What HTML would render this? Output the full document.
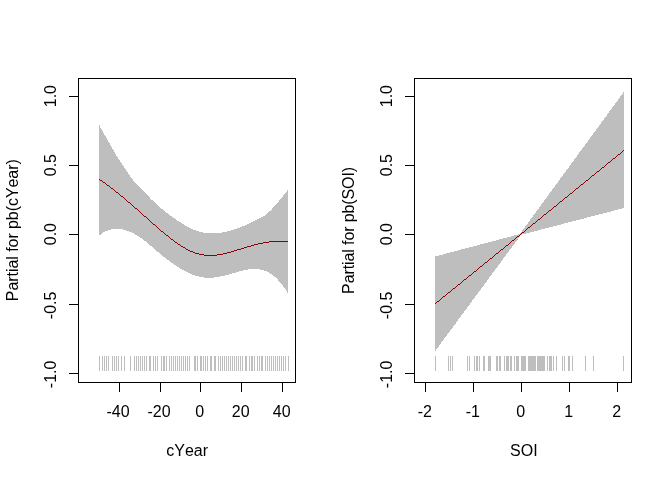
<!DOCTYPE html>
<html><head><meta charset="utf-8"><title>Partial term plots</title>
<style>html,body{margin:0;padding:0;background:#fff;}svg{display:block;}</style></head>
<body><svg width="672" height="480" viewBox="0 0 672 480">
<rect width="672" height="480" fill="#fff"/>
<g shape-rendering="crispEdges">
<polygon fill="#bebebe" points="99.0,124.1 99.5,125.3 100.0,126.4 100.5,127.5 101.0,128.5 101.5,129.5 102.0,130.4 102.5,131.3 103.0,132.2 103.5,133.0 104.0,133.9 104.5,134.7 105.0,135.5 105.5,136.3 106.0,137.2 106.5,138.0 107.0,138.9 107.5,139.7 108.0,140.6 108.5,141.5 109.0,142.4 109.5,143.3 110.0,144.2 110.5,145.1 111.0,146.0 111.5,146.9 112.0,147.8 112.5,148.7 113.0,149.6 113.5,150.4 114.0,151.3 114.5,152.2 115.0,153.0 115.5,153.8 116.0,154.7 116.5,155.5 117.0,156.3 117.5,157.1 118.0,157.8 118.5,158.6 119.0,159.4 119.5,160.1 120.0,160.9 120.5,161.6 121.0,162.4 121.5,163.1 122.0,163.9 122.5,164.6 123.0,165.4 123.5,166.1 124.0,166.9 124.5,167.6 125.0,168.4 125.5,169.2 126.0,169.9 126.5,170.7 127.0,171.5 127.5,172.2 128.0,173.0 128.5,173.7 129.0,174.4 129.5,175.2 130.0,175.9 130.5,176.6 131.0,177.3 131.5,177.9 132.0,178.6 132.5,179.3 133.0,179.9 133.5,180.5 134.0,181.1 134.5,181.7 135.0,182.3 135.5,182.9 136.0,183.4 136.5,184.0 137.0,184.5 137.5,185.1 138.0,185.6 138.5,186.1 139.0,186.7 139.5,187.2 140.0,187.7 140.5,188.2 141.0,188.7 141.5,189.3 142.0,189.8 142.5,190.3 143.0,190.8 143.5,191.3 144.0,191.9 144.5,192.4 145.0,192.9 145.5,193.4 146.0,194.0 146.5,194.5 147.0,195.0 147.5,195.5 148.0,196.0 148.5,196.5 149.0,197.0 149.5,197.5 150.0,198.1 150.5,198.6 151.0,199.1 151.5,199.5 152.0,200.0 152.5,200.5 153.0,201.0 153.5,201.5 154.0,202.0 154.5,202.4 155.0,202.9 155.5,203.3 156.0,203.8 156.5,204.2 157.0,204.7 157.5,205.1 158.0,205.6 158.5,206.0 159.0,206.4 159.5,206.8 160.0,207.3 160.5,207.7 161.0,208.1 161.5,208.5 162.0,208.9 162.5,209.3 163.0,209.7 163.5,210.1 164.0,210.5 164.5,210.9 165.0,211.3 165.5,211.7 166.0,212.1 166.5,212.5 167.0,212.9 167.5,213.2 168.0,213.6 168.5,214.0 169.0,214.4 169.5,214.7 170.0,215.1 170.5,215.5 171.0,215.8 171.5,216.2 172.0,216.6 172.5,216.9 173.0,217.3 173.5,217.7 174.0,218.0 174.5,218.4 175.0,218.7 175.5,219.1 176.0,219.4 176.5,219.8 177.0,220.1 177.5,220.5 178.0,220.8 178.5,221.1 179.0,221.5 179.5,221.8 180.0,222.1 180.5,222.4 181.0,222.8 181.5,223.1 182.0,223.4 182.5,223.7 183.0,224.0 183.5,224.3 184.0,224.6 184.5,224.9 185.0,225.2 185.5,225.5 186.0,225.8 186.5,226.1 187.0,226.4 187.5,226.6 188.0,226.9 188.5,227.2 189.0,227.4 189.5,227.7 190.0,227.9 190.5,228.2 191.0,228.4 191.5,228.6 192.0,228.9 192.5,229.1 193.0,229.3 193.5,229.5 194.0,229.7 194.5,230.0 195.0,230.2 195.5,230.3 196.0,230.5 196.5,230.7 197.0,230.9 197.5,231.1 198.0,231.2 198.5,231.4 199.0,231.5 199.5,231.7 200.0,231.8 200.5,232.0 201.0,232.1 201.5,232.2 202.0,232.3 202.5,232.4 203.0,232.5 203.5,232.6 204.0,232.7 204.5,232.8 205.0,232.9 205.5,233.0 206.0,233.0 206.5,233.1 207.0,233.2 207.5,233.2 208.0,233.3 208.5,233.3 209.0,233.3 209.5,233.4 210.0,233.4 210.5,233.4 211.0,233.4 211.5,233.4 212.0,233.4 212.5,233.4 213.0,233.4 213.5,233.4 214.0,233.4 214.5,233.4 215.0,233.3 215.5,233.3 216.0,233.3 216.5,233.2 217.0,233.2 217.5,233.1 218.0,233.1 218.5,233.0 219.0,233.0 219.5,232.9 220.0,232.8 220.5,232.8 221.0,232.7 221.5,232.6 222.0,232.5 222.5,232.4 223.0,232.3 223.5,232.2 224.0,232.1 224.5,232.0 225.0,231.9 225.5,231.8 226.0,231.7 226.5,231.6 227.0,231.5 227.5,231.3 228.0,231.2 228.5,231.1 229.0,230.9 229.5,230.8 230.0,230.7 230.5,230.5 231.0,230.4 231.5,230.2 232.0,230.1 232.5,229.9 233.0,229.8 233.5,229.6 234.0,229.5 234.5,229.3 235.0,229.1 235.5,229.0 236.0,228.8 236.5,228.6 237.0,228.4 237.5,228.3 238.0,228.1 238.5,227.9 239.0,227.7 239.5,227.5 240.0,227.3 240.5,227.1 241.0,227.0 241.5,226.8 242.0,226.6 242.5,226.4 243.0,226.2 243.5,226.0 244.0,225.8 244.5,225.6 245.0,225.3 245.5,225.1 246.0,224.9 246.5,224.7 247.0,224.4 247.5,224.2 248.0,224.0 248.5,223.7 249.0,223.5 249.5,223.2 250.0,223.0 250.5,222.7 251.0,222.4 251.5,222.2 252.0,221.9 252.5,221.6 253.0,221.3 253.5,221.0 254.0,220.8 254.5,220.5 255.0,220.2 255.5,220.0 256.0,219.7 256.5,219.5 257.0,219.3 257.5,219.1 258.0,218.8 258.5,218.6 259.0,218.5 259.5,218.3 260.0,218.1 260.5,217.9 261.0,217.6 261.5,217.4 262.0,217.2 262.5,216.9 263.0,216.7 263.5,216.4 264.0,216.0 264.5,215.7 265.0,215.3 265.5,215.0 266.0,214.6 266.5,214.1 267.0,213.7 267.5,213.3 268.0,212.8 268.5,212.4 269.0,211.9 269.5,211.4 270.0,210.9 270.5,210.5 271.0,210.0 271.5,209.5 272.0,208.9 272.5,208.4 273.0,207.9 273.5,207.3 274.0,206.8 274.5,206.2 275.0,205.7 275.5,205.1 276.0,204.5 276.5,204.0 277.0,203.4 277.5,202.8 278.0,202.2 278.5,201.6 279.0,201.0 279.5,200.4 280.0,199.7 280.5,199.1 281.0,198.5 281.5,197.9 282.0,197.2 282.5,196.6 283.0,196.0 283.5,195.4 284.0,194.7 284.5,194.1 285.0,193.5 285.5,192.9 286.0,192.2 286.5,191.6 287.0,191.0 287.5,190.4 288.0,189.7 288.0,293.3 287.5,292.5 287.0,291.7 286.5,290.9 286.0,290.2 285.5,289.4 285.0,288.7 284.5,288.0 284.0,287.3 283.5,286.6 283.0,285.9 282.5,285.2 282.0,284.6 281.5,283.9 281.0,283.3 280.5,282.7 280.0,282.1 279.5,281.6 279.0,281.0 278.5,280.5 278.0,279.9 277.5,279.4 277.0,278.9 276.5,278.4 276.0,277.9 275.5,277.5 275.0,277.0 274.5,276.6 274.0,276.2 273.5,275.8 273.0,275.4 272.5,275.0 272.0,274.6 271.5,274.3 271.0,273.9 270.5,273.6 270.0,273.3 269.5,273.0 269.0,272.7 268.5,272.4 268.0,272.2 267.5,271.9 267.0,271.7 266.5,271.4 266.0,271.2 265.5,271.0 265.0,270.8 264.5,270.6 264.0,270.4 263.5,270.3 263.0,270.1 262.5,270.0 262.0,269.8 261.5,269.7 261.0,269.6 260.5,269.5 260.0,269.4 259.5,269.3 259.0,269.2 258.5,269.1 258.0,269.1 257.5,269.0 257.0,269.0 256.5,268.9 256.0,268.9 255.5,268.9 255.0,268.9 254.5,268.9 254.0,268.9 253.5,268.9 253.0,268.9 252.5,268.9 252.0,269.0 251.5,269.0 251.0,269.0 250.5,269.1 250.0,269.1 249.5,269.2 249.0,269.3 248.5,269.3 248.0,269.4 247.5,269.5 247.0,269.6 246.5,269.7 246.0,269.8 245.5,269.9 245.0,270.0 244.5,270.1 244.0,270.2 243.5,270.3 243.0,270.4 242.5,270.5 242.0,270.7 241.5,270.8 241.0,270.9 240.5,271.0 240.0,271.2 239.5,271.3 239.0,271.4 238.5,271.6 238.0,271.7 237.5,271.9 237.0,272.0 236.5,272.2 236.0,272.3 235.5,272.5 235.0,272.6 234.5,272.7 234.0,272.9 233.5,273.0 233.0,273.2 232.5,273.3 232.0,273.5 231.5,273.6 231.0,273.8 230.5,273.9 230.0,274.1 229.5,274.2 229.0,274.3 228.5,274.5 228.0,274.6 227.5,274.7 227.0,274.9 226.5,275.0 226.0,275.1 225.5,275.3 225.0,275.4 224.5,275.5 224.0,275.7 223.5,275.8 223.0,275.9 222.5,276.0 222.0,276.1 221.5,276.2 221.0,276.3 220.5,276.4 220.0,276.5 219.5,276.6 219.0,276.7 218.5,276.8 218.0,276.9 217.5,277.0 217.0,277.1 216.5,277.1 216.0,277.2 215.5,277.3 215.0,277.3 214.5,277.4 214.0,277.5 213.5,277.5 213.0,277.6 212.5,277.6 212.0,277.6 211.5,277.7 211.0,277.7 210.5,277.7 210.0,277.7 209.5,277.7 209.0,277.7 208.5,277.7 208.0,277.7 207.5,277.7 207.0,277.7 206.5,277.7 206.0,277.6 205.5,277.6 205.0,277.5 204.5,277.5 204.0,277.4 203.5,277.4 203.0,277.3 202.5,277.2 202.0,277.1 201.5,277.0 201.0,276.9 200.5,276.8 200.0,276.7 199.5,276.6 199.0,276.5 198.5,276.4 198.0,276.3 197.5,276.1 197.0,276.0 196.5,275.8 196.0,275.7 195.5,275.5 195.0,275.4 194.5,275.2 194.0,275.0 193.5,274.8 193.0,274.7 192.5,274.5 192.0,274.3 191.5,274.1 191.0,273.9 190.5,273.7 190.0,273.5 189.5,273.2 189.0,273.0 188.5,272.8 188.0,272.6 187.5,272.3 187.0,272.1 186.5,271.8 186.0,271.6 185.5,271.3 185.0,271.1 184.5,270.8 184.0,270.6 183.5,270.3 183.0,270.0 182.5,269.7 182.0,269.4 181.5,269.2 181.0,268.9 180.5,268.6 180.0,268.3 179.5,268.0 179.0,267.7 178.5,267.3 178.0,267.0 177.5,266.7 177.0,266.4 176.5,266.1 176.0,265.7 175.5,265.4 175.0,265.1 174.5,264.7 174.0,264.4 173.5,264.1 173.0,263.7 172.5,263.4 172.0,263.0 171.5,262.6 171.0,262.3 170.5,261.9 170.0,261.6 169.5,261.2 169.0,260.8 168.5,260.4 168.0,260.1 167.5,259.7 167.0,259.3 166.5,258.9 166.0,258.5 165.5,258.1 165.0,257.7 164.5,257.4 164.0,257.0 163.5,256.6 163.0,256.2 162.5,255.7 162.0,255.3 161.5,254.9 161.0,254.5 160.5,254.1 160.0,253.7 159.5,253.3 159.0,252.9 158.5,252.4 158.0,252.0 157.5,251.6 157.0,251.2 156.5,250.7 156.0,250.3 155.5,249.9 155.0,249.4 154.5,249.0 154.0,248.6 153.5,248.1 153.0,247.7 152.5,247.3 152.0,246.8 151.5,246.4 151.0,246.0 150.5,245.5 150.0,245.1 149.5,244.7 149.0,244.2 148.5,243.8 148.0,243.4 147.5,243.0 147.0,242.6 146.5,242.1 146.0,241.7 145.5,241.3 145.0,240.9 144.5,240.5 144.0,240.2 143.5,239.8 143.0,239.4 142.5,239.0 142.0,238.7 141.5,238.3 141.0,238.0 140.5,237.6 140.0,237.3 139.5,236.9 139.0,236.6 138.5,236.3 138.0,236.0 137.5,235.7 137.0,235.4 136.5,235.1 136.0,234.8 135.5,234.5 135.0,234.2 134.5,233.9 134.0,233.7 133.5,233.4 133.0,233.2 132.5,232.9 132.0,232.7 131.5,232.4 131.0,232.2 130.5,232.0 130.0,231.8 129.5,231.6 129.0,231.4 128.5,231.2 128.0,231.0 127.5,230.8 127.0,230.7 126.5,230.5 126.0,230.3 125.5,230.2 125.0,230.0 124.5,229.9 124.0,229.8 123.5,229.7 123.0,229.6 122.5,229.4 122.0,229.4 121.5,229.3 121.0,229.2 120.5,229.1 120.0,229.0 119.5,229.0 119.0,228.9 118.5,228.9 118.0,228.9 117.5,228.9 117.0,228.8 116.5,228.8 116.0,228.8 115.5,228.9 115.0,228.9 114.5,228.9 114.0,229.0 113.5,229.0 113.0,229.1 112.5,229.2 112.0,229.2 111.5,229.3 111.0,229.4 110.5,229.6 110.0,229.7 109.5,229.8 109.0,230.0 108.5,230.1 108.0,230.3 107.5,230.5 107.0,230.7 106.5,230.9 106.0,231.1 105.5,231.3 105.0,231.6 104.5,231.8 104.0,232.1 103.5,232.4 103.0,232.7 102.5,233.1 102.0,233.4 101.5,233.8 101.0,234.1 100.5,234.5 100.0,234.9 99.5,235.4 99.0,235.8"/>
<polygon fill="#bebebe" points="435,256.5 519.8,234.1 624,91.7 624,208 521,234.8 435,351.3"/>
<g fill="#bebebe"><rect x="99" y="356" width="1" height="15"/><rect x="102" y="356" width="1" height="15"/><rect x="104" y="356" width="1" height="15"/><rect x="106" y="356" width="1" height="15"/><rect x="108" y="356" width="1" height="15"/><rect x="112" y="356" width="1" height="15"/><rect x="114" y="356" width="1" height="15"/><rect x="116" y="356" width="1" height="15"/><rect x="118" y="356" width="1" height="15"/><rect x="121" y="356" width="1" height="15"/><rect x="124" y="356" width="1" height="15"/><rect x="130" y="356" width="1" height="15"/><rect x="134" y="356" width="1" height="15"/><rect x="136" y="356" width="1" height="15"/><rect x="138" y="356" width="1" height="15"/><rect x="140" y="356" width="1" height="15"/><rect x="142" y="356" width="1" height="15"/><rect x="144" y="356" width="1" height="15"/><rect x="146" y="356" width="1" height="15"/><rect x="149" y="356" width="2" height="15"/><rect x="153" y="356" width="1" height="15"/><rect x="155" y="356" width="1" height="15"/><rect x="157" y="356" width="1" height="15"/><rect x="161" y="356" width="1" height="15"/><rect x="163" y="356" width="2" height="15"/><rect x="166" y="356" width="1" height="15"/><rect x="169" y="356" width="1" height="15"/><rect x="171" y="356" width="1" height="15"/><rect x="173" y="356" width="1" height="15"/><rect x="175" y="356" width="1" height="15"/><rect x="177" y="356" width="1" height="15"/><rect x="179" y="356" width="1" height="15"/><rect x="181" y="356" width="1" height="15"/><rect x="183" y="356" width="1" height="15"/><rect x="185" y="356" width="1" height="15"/><rect x="187" y="356" width="1" height="15"/><rect x="189" y="356" width="1" height="15"/><rect x="194" y="356" width="2" height="15"/><rect x="197" y="356" width="1" height="15"/><rect x="200" y="356" width="2" height="15"/><rect x="203" y="356" width="1" height="15"/><rect x="205" y="356" width="1" height="15"/><rect x="207" y="356" width="1" height="15"/><rect x="210" y="356" width="2" height="15"/><rect x="214" y="356" width="2" height="15"/><rect x="218" y="356" width="1" height="15"/><rect x="220" y="356" width="1" height="15"/><rect x="222" y="356" width="1" height="15"/><rect x="224" y="356" width="1" height="15"/><rect x="226" y="356" width="1" height="15"/><rect x="228" y="356" width="1" height="15"/><rect x="230" y="356" width="1" height="15"/><rect x="232" y="356" width="1" height="15"/><rect x="234" y="356" width="1" height="15"/><rect x="236" y="356" width="1" height="15"/><rect x="238" y="356" width="1" height="15"/><rect x="240" y="356" width="1" height="15"/><rect x="242" y="356" width="1" height="15"/><rect x="245" y="356" width="2" height="15"/><rect x="249" y="356" width="1" height="15"/><rect x="251" y="356" width="2" height="15"/><rect x="254" y="356" width="1" height="15"/><rect x="257" y="356" width="1" height="15"/><rect x="259" y="356" width="1" height="15"/><rect x="261" y="356" width="2" height="15"/><rect x="265" y="356" width="1" height="15"/><rect x="267" y="356" width="1" height="15"/><rect x="269" y="356" width="1" height="15"/><rect x="271" y="356" width="1" height="15"/><rect x="273" y="356" width="1" height="15"/><rect x="275" y="356" width="1" height="15"/><rect x="277" y="356" width="1" height="15"/><rect x="279" y="356" width="1" height="15"/><rect x="281" y="356" width="1" height="15"/><rect x="283" y="356" width="1" height="15"/><rect x="285" y="356" width="1" height="15"/><rect x="288" y="356" width="1" height="15"/><rect x="435" y="356" width="1" height="15"/><rect x="448" y="356" width="1" height="15"/><rect x="450" y="356" width="1" height="15"/><rect x="452" y="356" width="1" height="15"/><rect x="467" y="356" width="1" height="15"/><rect x="469" y="356" width="1" height="15"/><rect x="474" y="356" width="1" height="15"/><rect x="476" y="356" width="2" height="15"/><rect x="479" y="356" width="1" height="15"/><rect x="483" y="356" width="2" height="15"/><rect x="488" y="356" width="3" height="15"/><rect x="496" y="356" width="2" height="15"/><rect x="499" y="356" width="2" height="15"/><rect x="504" y="356" width="1" height="15"/><rect x="506" y="356" width="3" height="15"/><rect x="510" y="356" width="2" height="15"/><rect x="514" y="356" width="1" height="15"/><rect x="516" y="356" width="3" height="15"/><rect x="521" y="356" width="5" height="15"/><rect x="528" y="356" width="8" height="15"/><rect x="537" y="356" width="8" height="15"/><rect x="547" y="356" width="1" height="15"/><rect x="549" y="356" width="3" height="15"/><rect x="553" y="356" width="1" height="15"/><rect x="556" y="356" width="1" height="15"/><rect x="562" y="356" width="1" height="15"/><rect x="564" y="356" width="1" height="15"/><rect x="568" y="356" width="2" height="15"/><rect x="572" y="356" width="1" height="15"/><rect x="585" y="356" width="1" height="15"/><rect x="593" y="356" width="1" height="15"/><rect x="623" y="356" width="1" height="15"/></g>
<g fill="#8b0000"><rect x="99" y="179" width="1" height="1"/><rect x="100" y="180" width="2" height="1"/><rect x="102" y="181" width="1" height="1"/><rect x="103" y="182" width="2" height="1"/><rect x="105" y="183" width="1" height="1"/><rect x="106" y="184" width="1" height="1"/><rect x="107" y="185" width="2" height="1"/><rect x="109" y="186" width="1" height="1"/><rect x="110" y="187" width="1" height="1"/><rect x="111" y="188" width="2" height="1"/><rect x="113" y="189" width="1" height="1"/><rect x="114" y="190" width="1" height="1"/><rect x="115" y="191" width="1" height="1"/><rect x="116" y="192" width="2" height="1"/><rect x="118" y="193" width="1" height="1"/><rect x="119" y="194" width="1" height="1"/><rect x="120" y="195" width="1" height="1"/><rect x="121" y="196" width="2" height="1"/><rect x="123" y="197" width="1" height="1"/><rect x="124" y="198" width="1" height="1"/><rect x="125" y="199" width="1" height="1"/><rect x="126" y="200" width="1" height="1"/><rect x="127" y="201" width="1" height="1"/><rect x="128" y="202" width="2" height="1"/><rect x="130" y="203" width="1" height="1"/><rect x="131" y="204" width="1" height="1"/><rect x="132" y="205" width="1" height="1"/><rect x="133" y="206" width="1" height="1"/><rect x="134" y="207" width="1" height="1"/><rect x="135" y="208" width="2" height="1"/><rect x="137" y="209" width="1" height="1"/><rect x="138" y="210" width="1" height="1"/><rect x="139" y="211" width="1" height="1"/><rect x="140" y="212" width="1" height="1"/><rect x="141" y="213" width="1" height="1"/><rect x="142" y="214" width="1" height="1"/><rect x="143" y="215" width="1" height="1"/><rect x="144" y="216" width="2" height="1"/><rect x="146" y="217" width="1" height="1"/><rect x="147" y="218" width="1" height="1"/><rect x="148" y="219" width="1" height="1"/><rect x="149" y="220" width="1" height="1"/><rect x="150" y="221" width="1" height="1"/><rect x="151" y="222" width="1" height="1"/><rect x="152" y="223" width="1" height="1"/><rect x="153" y="224" width="2" height="1"/><rect x="155" y="225" width="1" height="1"/><rect x="156" y="226" width="1" height="1"/><rect x="157" y="227" width="1" height="1"/><rect x="158" y="228" width="1" height="1"/><rect x="159" y="229" width="1" height="1"/><rect x="160" y="230" width="1" height="1"/><rect x="161" y="231" width="2" height="1"/><rect x="163" y="232" width="1" height="1"/><rect x="164" y="233" width="1" height="1"/><rect x="165" y="234" width="1" height="1"/><rect x="166" y="235" width="2" height="1"/><rect x="168" y="236" width="1" height="1"/><rect x="169" y="237" width="1" height="1"/><rect x="170" y="238" width="1" height="1"/><rect x="171" y="239" width="2" height="1"/><rect x="173" y="240" width="1" height="1"/><rect x="174" y="241" width="1" height="1"/><rect x="175" y="242" width="2" height="1"/><rect x="177" y="243" width="1" height="1"/><rect x="178" y="244" width="2" height="1"/><rect x="180" y="245" width="1" height="1"/><rect x="181" y="246" width="2" height="1"/><rect x="183" y="247" width="2" height="1"/><rect x="185" y="248" width="1" height="1"/><rect x="186" y="249" width="2" height="1"/><rect x="188" y="250" width="2" height="1"/><rect x="190" y="251" width="3" height="1"/><rect x="193" y="252" width="2" height="1"/><rect x="195" y="253" width="4" height="1"/><rect x="199" y="254" width="5" height="1"/><rect x="204" y="255" width="13" height="1"/><rect x="217" y="254" width="6" height="1"/><rect x="223" y="253" width="4" height="1"/><rect x="227" y="252" width="4" height="1"/><rect x="231" y="251" width="3" height="1"/><rect x="234" y="250" width="3" height="1"/><rect x="237" y="249" width="4" height="1"/><rect x="241" y="248" width="3" height="1"/><rect x="244" y="247" width="3" height="1"/><rect x="247" y="246" width="4" height="1"/><rect x="251" y="245" width="3" height="1"/><rect x="254" y="244" width="4" height="1"/><rect x="258" y="243" width="5" height="1"/><rect x="263" y="242" width="6" height="1"/><rect x="269" y="241" width="19" height="1"/><rect x="435" y="303" width="1" height="1"/><rect x="436" y="302" width="1" height="1"/><rect x="437" y="301" width="2" height="1"/><rect x="439" y="300" width="1" height="1"/><rect x="440" y="299" width="1" height="1"/><rect x="441" y="298" width="1" height="1"/><rect x="442" y="297" width="1" height="1"/><rect x="443" y="296" width="2" height="1"/><rect x="445" y="295" width="1" height="1"/><rect x="446" y="294" width="1" height="1"/><rect x="447" y="293" width="1" height="1"/><rect x="448" y="292" width="2" height="1"/><rect x="450" y="291" width="1" height="1"/><rect x="451" y="290" width="1" height="1"/><rect x="452" y="289" width="1" height="1"/><rect x="453" y="288" width="2" height="1"/><rect x="455" y="287" width="1" height="1"/><rect x="456" y="286" width="1" height="1"/><rect x="457" y="285" width="1" height="1"/><rect x="458" y="284" width="2" height="1"/><rect x="460" y="283" width="1" height="1"/><rect x="461" y="282" width="1" height="1"/><rect x="462" y="281" width="1" height="1"/><rect x="463" y="280" width="1" height="1"/><rect x="464" y="279" width="2" height="1"/><rect x="466" y="278" width="1" height="1"/><rect x="467" y="277" width="1" height="1"/><rect x="468" y="276" width="1" height="1"/><rect x="469" y="275" width="2" height="1"/><rect x="471" y="274" width="1" height="1"/><rect x="472" y="273" width="1" height="1"/><rect x="473" y="272" width="1" height="1"/><rect x="474" y="271" width="2" height="1"/><rect x="476" y="270" width="1" height="1"/><rect x="477" y="269" width="1" height="1"/><rect x="478" y="268" width="1" height="1"/><rect x="479" y="267" width="1" height="1"/><rect x="480" y="266" width="2" height="1"/><rect x="482" y="265" width="1" height="1"/><rect x="483" y="264" width="1" height="1"/><rect x="484" y="263" width="1" height="1"/><rect x="485" y="262" width="2" height="1"/><rect x="487" y="261" width="1" height="1"/><rect x="488" y="260" width="1" height="1"/><rect x="489" y="259" width="1" height="1"/><rect x="490" y="258" width="2" height="1"/><rect x="492" y="257" width="1" height="1"/><rect x="493" y="256" width="1" height="1"/><rect x="494" y="255" width="1" height="1"/><rect x="495" y="254" width="1" height="1"/><rect x="496" y="253" width="2" height="1"/><rect x="498" y="252" width="1" height="1"/><rect x="499" y="251" width="1" height="1"/><rect x="500" y="250" width="1" height="1"/><rect x="501" y="249" width="2" height="1"/><rect x="503" y="248" width="1" height="1"/><rect x="504" y="247" width="1" height="1"/><rect x="505" y="246" width="1" height="1"/><rect x="506" y="245" width="2" height="1"/><rect x="508" y="244" width="1" height="1"/><rect x="509" y="243" width="1" height="1"/><rect x="510" y="242" width="1" height="1"/><rect x="511" y="241" width="1" height="1"/><rect x="512" y="240" width="2" height="1"/><rect x="514" y="239" width="1" height="1"/><rect x="515" y="238" width="1" height="1"/><rect x="516" y="237" width="1" height="1"/><rect x="517" y="236" width="2" height="1"/><rect x="519" y="235" width="1" height="1"/><rect x="520" y="234" width="1" height="1"/><rect x="521" y="233" width="1" height="1"/><rect x="522" y="232" width="2" height="1"/><rect x="524" y="231" width="1" height="1"/><rect x="525" y="230" width="1" height="1"/><rect x="526" y="229" width="1" height="1"/><rect x="527" y="228" width="1" height="1"/><rect x="528" y="227" width="2" height="1"/><rect x="530" y="226" width="1" height="1"/><rect x="531" y="225" width="1" height="1"/><rect x="532" y="224" width="1" height="1"/><rect x="533" y="223" width="2" height="1"/><rect x="535" y="222" width="1" height="1"/><rect x="536" y="221" width="1" height="1"/><rect x="537" y="220" width="1" height="1"/><rect x="538" y="219" width="2" height="1"/><rect x="540" y="218" width="1" height="1"/><rect x="541" y="217" width="1" height="1"/><rect x="542" y="216" width="1" height="1"/><rect x="543" y="215" width="1" height="1"/><rect x="544" y="214" width="2" height="1"/><rect x="546" y="213" width="1" height="1"/><rect x="547" y="212" width="1" height="1"/><rect x="548" y="211" width="1" height="1"/><rect x="549" y="210" width="2" height="1"/><rect x="551" y="209" width="1" height="1"/><rect x="552" y="208" width="1" height="1"/><rect x="553" y="207" width="1" height="1"/><rect x="554" y="206" width="2" height="1"/><rect x="556" y="205" width="1" height="1"/><rect x="557" y="204" width="1" height="1"/><rect x="558" y="203" width="1" height="1"/><rect x="559" y="202" width="1" height="1"/><rect x="560" y="201" width="2" height="1"/><rect x="562" y="200" width="1" height="1"/><rect x="563" y="199" width="1" height="1"/><rect x="564" y="198" width="1" height="1"/><rect x="565" y="197" width="2" height="1"/><rect x="567" y="196" width="1" height="1"/><rect x="568" y="195" width="1" height="1"/><rect x="569" y="194" width="1" height="1"/><rect x="570" y="193" width="2" height="1"/><rect x="572" y="192" width="1" height="1"/><rect x="573" y="191" width="1" height="1"/><rect x="574" y="190" width="1" height="1"/><rect x="575" y="189" width="1" height="1"/><rect x="576" y="188" width="2" height="1"/><rect x="578" y="187" width="1" height="1"/><rect x="579" y="186" width="1" height="1"/><rect x="580" y="185" width="1" height="1"/><rect x="581" y="184" width="2" height="1"/><rect x="583" y="183" width="1" height="1"/><rect x="584" y="182" width="1" height="1"/><rect x="585" y="181" width="1" height="1"/><rect x="586" y="180" width="2" height="1"/><rect x="588" y="179" width="1" height="1"/><rect x="589" y="178" width="1" height="1"/><rect x="590" y="177" width="1" height="1"/><rect x="591" y="176" width="1" height="1"/><rect x="592" y="175" width="2" height="1"/><rect x="594" y="174" width="1" height="1"/><rect x="595" y="173" width="1" height="1"/><rect x="596" y="172" width="1" height="1"/><rect x="597" y="171" width="2" height="1"/><rect x="599" y="170" width="1" height="1"/><rect x="600" y="169" width="1" height="1"/><rect x="601" y="168" width="1" height="1"/><rect x="602" y="167" width="2" height="1"/><rect x="604" y="166" width="1" height="1"/><rect x="605" y="165" width="1" height="1"/><rect x="606" y="164" width="1" height="1"/><rect x="607" y="163" width="1" height="1"/><rect x="608" y="162" width="2" height="1"/><rect x="610" y="161" width="1" height="1"/><rect x="611" y="160" width="1" height="1"/><rect x="612" y="159" width="1" height="1"/><rect x="613" y="158" width="2" height="1"/><rect x="615" y="157" width="1" height="1"/><rect x="616" y="156" width="1" height="1"/><rect x="617" y="155" width="1" height="1"/><rect x="618" y="154" width="2" height="1"/><rect x="620" y="153" width="1" height="1"/><rect x="621" y="152" width="1" height="1"/><rect x="622" y="151" width="1" height="1"/><rect x="623" y="150" width="1" height="1"/></g>
<g fill="#000"><rect x="78" y="78" width="218" height="1"/><rect x="78" y="382" width="218" height="1"/><rect x="78" y="78" width="1" height="305"/><rect x="295" y="78" width="1" height="305"/><rect x="119" y="382" width="1" height="10"/><rect x="160" y="382" width="1" height="10"/><rect x="200" y="382" width="1" height="10"/><rect x="241" y="382" width="1" height="10"/><rect x="282" y="382" width="1" height="10"/><rect x="69" y="96" width="10" height="1"/><rect x="69" y="165" width="10" height="1"/><rect x="69" y="234" width="10" height="1"/><rect x="69" y="304" width="10" height="1"/><rect x="69" y="373" width="10" height="1"/><rect x="414" y="78" width="218" height="1"/><rect x="414" y="382" width="218" height="1"/><rect x="414" y="78" width="1" height="305"/><rect x="631" y="78" width="1" height="305"/><rect x="425" y="382" width="1" height="10"/><rect x="473" y="382" width="1" height="10"/><rect x="521" y="382" width="1" height="10"/><rect x="569" y="382" width="1" height="10"/><rect x="617" y="382" width="1" height="10"/><rect x="405" y="96" width="10" height="1"/><rect x="405" y="165" width="10" height="1"/><rect x="405" y="234" width="10" height="1"/><rect x="405" y="304" width="10" height="1"/><rect x="405" y="373" width="10" height="1"/></g>
</g>
<g font-family="'Liberation Sans', sans-serif" font-size="16px" fill="#000" text-anchor="middle" style="font-kerning:none">
<text x="118.1" y="417">-40</text>
<text x="159.1" y="417">-20</text>
<text x="199.7" y="417">0</text>
<text x="240.7" y="417">20</text>
<text x="281.7" y="417">40</text>
<text x="424.8" y="417">-2</text>
<text x="472.8" y="417">-1</text>
<text x="520.7" y="417">0</text>
<text x="568.7" y="417">1</text>
<text x="616.7" y="417">2</text>
<text x="187.2" y="455.5">cYear</text>
<text x="523.8" y="455.5">SOI</text>
<text transform="translate(55.5,96.1) rotate(-90)">1.0</text>
<text transform="translate(55.5,165.1) rotate(-90)">0.5</text>
<text transform="translate(55.5,234.1) rotate(-90)">0.0</text>
<text transform="translate(55.5,305.4) rotate(-90)">-0.5</text>
<text transform="translate(55.5,374.4) rotate(-90)">-1.0</text>
<text transform="translate(391.5,96.1) rotate(-90)">1.0</text>
<text transform="translate(391.5,165.1) rotate(-90)">0.5</text>
<text transform="translate(391.5,234.1) rotate(-90)">0.0</text>
<text transform="translate(391.5,305.4) rotate(-90)">-0.5</text>
<text transform="translate(391.5,374.4) rotate(-90)">-1.0</text>
<text transform="translate(17.8,230.2) rotate(-90)" textLength="142" lengthAdjust="spacing">Partial for pb(cYear)</text>
<text transform="translate(353.8,230.4) rotate(-90)" textLength="127" lengthAdjust="spacing">Partial for pb(SOI)</text>
</g></svg></body></html>
